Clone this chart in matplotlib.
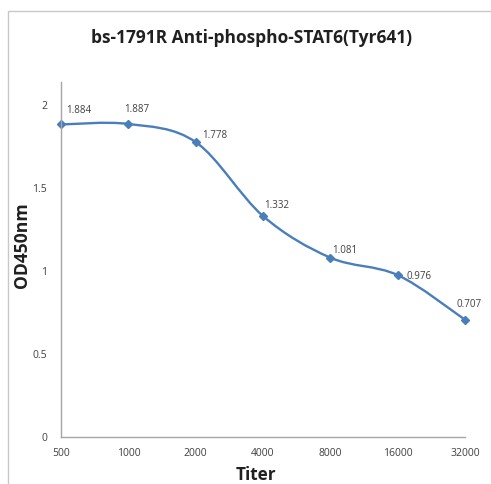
import numpy as np
import matplotlib.pyplot as plt
from matplotlib.path import Path
from matplotlib.patches import PathPatch, Rectangle

titers = ["500", "1000", "2000", "4000", "8000", "16000", "32000"]
od450 = [1.884, 1.887, 1.778, 1.332, 1.081, 0.976, 0.707]
label_text = ["1.884", "1.887", "1.778", "1.332", "1.081", "0.976", "0.707"]

# label offsets in pixels (dx, dy) as placed in the original
label_off = [(5, 14), (-4, 14), (6, 7), (1, 11), (2, 7), (9, -1), (-8, 15)]

blue = "#4A7EBB"
plt.rcParams['font.family'] = ['Open Sans', 'DejaVu Sans']

fig = plt.figure(figsize=(4.91, 4.84), dpi=100)
fig.patches.append(Rectangle((8/491, -0.1), 1.2, (484-11)/484 + 0.1,
                             transform=fig.transFigure, fill=False,
                             edgecolor="#C8C8C8", linewidth=1.0))
ax = fig.add_axes([61/491, 47/484, 404/491, 355/484])

x = np.arange(len(od450))
y = np.array(od450)

# excel-style smoothed line (catmull-rom bezier)
verts = [(x[0], y[0])]
codes = [Path.MOVETO]
for i in range(len(x) - 1):
    p0 = np.array([x[max(i-1, 0)], y[max(i-1, 0)]])
    p1 = np.array([x[i], y[i]])
    p2 = np.array([x[i+1], y[i+1]])
    p3 = np.array([x[min(i+2, len(x)-1)], y[min(i+2, len(x)-1)]])
    c1 = p1 + (p2 - p0) / 6
    c2 = p2 - (p3 - p1) / 6
    verts += [tuple(c1), tuple(c2), tuple(p2)]
    codes += [Path.CURVE4] * 3
ax.add_patch(PathPatch(Path(verts, codes), facecolor="none",
                       edgecolor=blue, linewidth=1.7, clip_on=False))
ax.plot(x, y, linestyle="none", marker="D", markersize=4.5,
        color=blue, clip_on=False)

for xi, yi, t, (dx, dy) in zip(x, y, label_text, label_off):
    ax.annotate(t, (xi, yi), xytext=(dx, dy), textcoords="offset pixels",
                ha="left", va="center", fontsize=7, color="#404040")

ax.set_xlim(0, len(x) - 1)
ax.set_ylim(0, 2.14)
ax.set_xticks(x)
ax.set_xticklabels(titers)
ax.set_yticks([0, 0.5, 1, 1.5, 2])
ax.set_yticklabels(["0", "0.5", "1", "1.5", "2"])
ax.tick_params(length=0, labelsize=7.5, labelcolor="#404040", pad=8)
ax.tick_params(axis="y", pad=10)
for s in ["top", "right"]:
    ax.spines[s].set_visible(False)
for s in ["left", "bottom"]:
    ax.spines[s].set_color("#A6A6A6")
    ax.spines[s].set_linewidth(1.0)

fig.text(252/491, 1 - 38/484, "bs-1791R Anti-phospho-STAT6(Tyr641)",
         ha="center", va="center", fontsize=12.5, fontweight="bold", color="#202020")
fig.text(256/491, 1 - 475/484, "Titer", ha="center", va="center",
         fontsize=12.3, fontweight="bold", color="#202020")
fig.text(22/491, 1 - 245/484, "OD450nm", ha="center", va="center",
         rotation=90, fontsize=12.6, fontweight="bold", color="#202020")

fig.savefig("out.png", dpi=100)
